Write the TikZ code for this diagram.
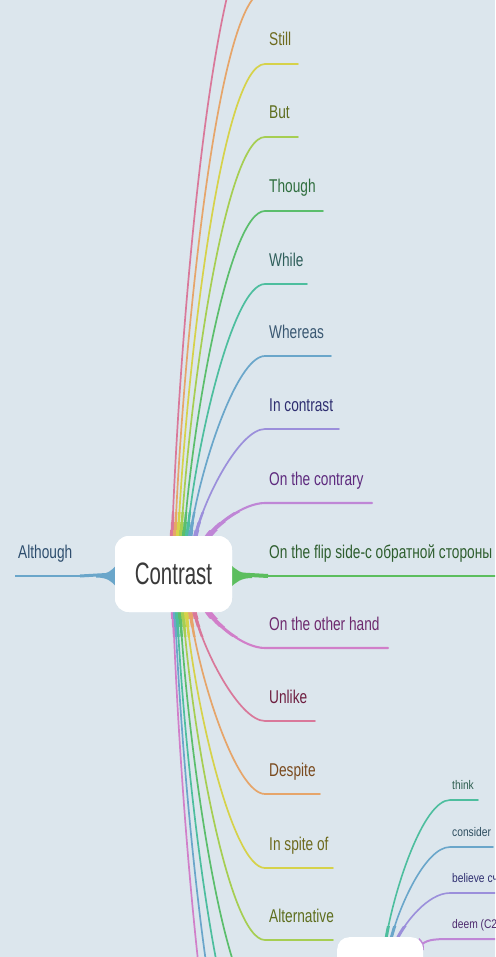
\documentclass[tikz,border=0pt]{standalone}
\usepackage{fontspec}
\setmainfont{Liberation Sans}[FakeStretch=0.74]
\newfontfamily\titlefont{Liberation Sans}[FakeStretch=0.66]
\newfontfamily\subfont{Liberation Sans}[FakeStretch=0.82]
\definecolor{bg}{HTML}{DCE6ED}
\definecolor{cPink}{HTML}{D9789A}
\definecolor{cOrange}{HTML}{E6A56A}
\definecolor{cYellow}{HTML}{D6D24A}
\definecolor{cYG}{HTML}{A6CE52}
\definecolor{cGreen}{HTML}{5BBE6C}
\definecolor{cTeal}{HTML}{4DBE9E}
\definecolor{cBlue}{HTML}{6AA6CA}
\definecolor{cPurple}{HTML}{9B8FDB}
\definecolor{cViolet}{HTML}{BF86D6}
\definecolor{cMagenta}{HTML}{D17FC9}
\definecolor{cFlip}{HTML}{5CBE5E}
\definecolor{tStill}{HTML}{6E6A1E}
\definecolor{tBut}{HTML}{5E6E1E}
\definecolor{tThough}{HTML}{2F6E3E}
\definecolor{tWhile}{HTML}{2E5E5A}
\definecolor{tWhereas}{HTML}{3A5872}
\definecolor{tInc}{HTML}{2E2E70}
\definecolor{tContrary}{HTML}{5E2A7E}
\definecolor{tFlip}{HTML}{2E5E2E}
\definecolor{tOther}{HTML}{6E2A6E}
\definecolor{tUnlike}{HTML}{6E1E40}
\definecolor{tDespite}{HTML}{7A4A1E}
\definecolor{tSpite}{HTML}{6E6A1E}
\definecolor{tAlt}{HTML}{5E6E1E}
\definecolor{tAlthough}{HTML}{2E4E6E}
\definecolor{tThink}{HTML}{2E5E50}
\definecolor{tConsider}{HTML}{2E4E60}
\definecolor{tBelieve}{HTML}{2E2E70}
\definecolor{tDeem}{HTML}{4E2A6E}
\definecolor{tTitle}{HTML}{3A3A3A}
\tikzset{
  br/.style={line width=1.7pt, line cap=round},
  lbl/.style={anchor=base west, inner sep=0pt, font=\fontsize{18.5}{20}\selectfont},
  sublbl/.style={anchor=base west, inner sep=0pt, font=\subfont\fontsize{12.5}{14}\selectfont},
  topic/.style={fill=white, rounded corners=14pt, inner sep=0pt},
}
% #1 name, #2 sx, #3 sy, #4 curve end x, #5 ey, #6 line end x
\newcommand\mkbranch[6]{%
  \pgfmathsetmacro\bdy{#5-#3}%
  \pgfmathsetmacro\bcc{20+0.05*abs(\bdy)}%
  \coordinate (#1-s) at (#2,#3);%
  \coordinate (#1-a) at ({#2+8},{#3+0.35*\bdy});%
  \coordinate (#1-b) at ({#4-\bcc},#5);%
  \coordinate (#1-e) at (#4,#5);%
  \coordinate (#1-f) at (#6,#5);%
}
\newcommand\drawbr[3]{\draw[br, #2, line width=#3] (#1-s) .. controls (#1-a) and (#1-b) .. (#1-e) -- (#1-f);}
\newcommand\flarebr[3]{\draw[#2, line width=#3] (#1-s) .. controls (#1-a) and (#1-b) .. (#1-e);}
\newcommand\upperflare[2]{%
  \flarebr{bA}{cPink}{#1}\flarebr{bB}{cOrange}{#1}\flarebr{bStill}{cYellow}{#1}%
  \flarebr{bBut}{cYG}{#1}\flarebr{bThough}{cGreen}{#1}\flarebr{bWhile}{cTeal}{#1}%
  \flarebr{bWhereas}{cBlue}{#1}\flarebr{bInc}{cPurple}{#1}\flarebr{bContrary}{cViolet}{#2}}
\newcommand\lowerflare[2]{%
  \flarebr{bF}{cMagenta}{#1}\flarebr{bE}{cBlue}{#1}\flarebr{bD}{cTeal}{#1}%
  \flarebr{bC}{cGreen}{#1}\flarebr{bAlt}{cYG}{#1}\flarebr{bSpite}{cYellow}{#1}%
  \flarebr{bDespite}{cOrange}{#1}\flarebr{bUnlike}{cPink}{#1}\flarebr{bOther}{cMagenta}{#2}}
\begin{document}
\begin{tikzpicture}[x=1pt,y=-1pt]
\useasboundingbox (0,0) rectangle (495,957);
\fill[bg] (0,0) rectangle (495,957);
\clip (0,0) rectangle (495,957);

% central topic (placed first so its anchors exist)
\node[topic, minimum width=117pt, minimum height=76pt] (contrast) at (173.5,574) {};

% branch geometry (upper)
\mkbranch{bA}{172}{538}{265}{-82}{340}
\mkbranch{bB}{175}{538}{265}{-9}{320}
\mkbranch{bStill}{178}{538}{265}{64}{298}
\mkbranch{bBut}{181}{538}{265}{137}{298}
\mkbranch{bThough}{184}{538}{265}{211}{323}
\mkbranch{bWhile}{187}{538}{265}{284}{307}
\mkbranch{bWhereas}{190}{538}{265}{356}{331}
\mkbranch{bInc}{195}{538}{265}{429}{339}
\mkbranch{bContrary}{207}{538}{265}{503}{372}
% lower
\mkbranch{bOther}{207}{610}{265}{648}{388}
\mkbranch{bUnlike}{194}{610}{265}{721}{315}
\mkbranch{bDespite}{190}{610}{265}{794}{320}
\mkbranch{bSpite}{186}{610}{265}{868}{333}
\mkbranch{bAlt}{183}{610}{265}{940}{333}
\mkbranch{bC}{180}{610}{265}{1013}{330}
\mkbranch{bD}{177}{610}{265}{1086}{330}
\mkbranch{bE}{175}{610}{265}{1159}{330}
\mkbranch{bF}{173}{610}{265}{1232}{330}

% second topic sub-branches
\mkbranch{sThink}{386}{939}{450}{800}{478}
\mkbranch{sConsider}{391}{939}{450}{847}{493}
\mkbranch{sBelieve}{397}{939}{450}{893}{500}
\coordinate (sDeem-s) at (420,946);
\coordinate (sDeem-a) at (426,940);
\coordinate (sDeem-b) at (432,939);
\coordinate (sDeem-e) at (450,939);
\coordinate (sDeem-f) at (500,939);

% draw branches
\drawbr{bF}{cMagenta}{1.7pt}
\drawbr{bE}{cBlue}{1.7pt}
\drawbr{bD}{cTeal}{1.7pt}
\drawbr{bC}{cGreen}{1.7pt}
\drawbr{bAlt}{cYG}{1.7pt}
\drawbr{bSpite}{cYellow}{1.7pt}
\drawbr{bDespite}{cOrange}{1.7pt}
\drawbr{bUnlike}{cPink}{1.7pt}
\drawbr{bOther}{cMagenta}{2.1pt}
\drawbr{bA}{cPink}{1.7pt}
\drawbr{bB}{cOrange}{1.7pt}
\drawbr{bStill}{cYellow}{1.7pt}
\drawbr{bBut}{cYG}{1.7pt}
\drawbr{bThough}{cGreen}{1.7pt}
\drawbr{bWhile}{cTeal}{1.7pt}
\drawbr{bWhereas}{cBlue}{1.7pt}
\drawbr{bInc}{cPurple}{1.7pt}
\drawbr{bContrary}{cViolet}{2.1pt}

% flares near the central topic (stepped widths)
\begin{scope}\clip (150,540) rectangle (245,512); \upperflare{2.4pt}{3pt}\end{scope}
\begin{scope}\clip (150,540) rectangle (245,522); \upperflare{3.2pt}{4pt}\end{scope}
\begin{scope}\clip (150,540) rectangle (245,530); \upperflare{4.4pt}{6pt}\end{scope}
\begin{scope}\clip (150,608) rectangle (245,636); \lowerflare{2.4pt}{3pt}\end{scope}
\begin{scope}\clip (150,608) rectangle (245,626); \lowerflare{3.2pt}{4pt}\end{scope}
\begin{scope}\clip (150,608) rectangle (245,618); \lowerflare{4.4pt}{6pt}\end{scope}

% Although (left) and flip side (right)
\coordinate (althE) at (15,576);
\coordinate (althM) at (80,576);
\coordinate (flipM) at (268,576);
\coordinate (flipE) at (500,576);
\draw[cBlue, line width=2pt] (althE) -- (althM);
\draw[cBlue, line width=3pt] (althM) -- (contrast.west);
\fill[cBlue] (96,574.5) .. controls (107,574.5) and (112,571) .. (117,564) -- (117,588) .. controls (112,581) and (107,577.5) .. (96,577.5) -- cycle;
\draw[cFlip, line width=2.8pt] (flipM) -- (flipE);
\draw[cFlip, line width=4pt] (contrast.east) -- (flipM);
\fill[cFlip] (252,574) .. controls (241,574) and (236,570) .. (230,564) -- (230,588) .. controls (236,582) and (241,578) .. (252,578) -- cycle;

% second topic sub-branches
\drawbr{sThink}{cTeal}{1.6pt}
\drawbr{sConsider}{cBlue}{1.6pt}
\drawbr{sBelieve}{cPurple}{1.6pt}
\drawbr{sDeem}{cViolet}{2pt}
\begin{scope}
  \clip (370,941) rectangle (440,926);
  \flarebr{sThink}{cTeal}{3pt}\flarebr{sConsider}{cBlue}{3pt}\flarebr{sBelieve}{cPurple}{3pt}
\end{scope}
\fill[cViolet] (419,938) .. controls (423,941) and (424,944) .. (424,950) -- (418,950) -- cycle;

% topic nodes on top
\node[topic, minimum width=117pt, minimum height=76pt] (contrast) at (173.5,574)
  {\titlefont\fontsize{31}{31}\selectfont\color{tTitle}Contrast};
\node[topic, rounded corners=12pt, minimum width=86pt, minimum height=70pt, anchor=north west] (topicB) at (337,937) {};

% labels
\node[lbl, tStill] (still) at (269,46) {Still};
\node[lbl, tBut] (but) at (269,119) {But};
\node[lbl, tThough] (though) at (269,193) {Though};
\node[lbl, tWhile] (while) at (269,266) {While};
\node[lbl, tWhereas] (whereas) at (269,338) {Whereas};
\node[lbl, tInc] (incontrast) at (269,411) {In contrast};
\node[lbl, tContrary] (contrary) at (269,485) {On the contrary};
\node[lbl, tFlip] (flip) at (269,558) {On the flip side-с обратной стороны};
\node[lbl, tOther] (other) at (269,630) {On the other hand};
\node[lbl, tUnlike] (unlike) at (269,703) {Unlike};
\node[lbl, tDespite] (despite) at (269,776) {Despite};
\node[lbl, tSpite] (spite) at (269,850) {In spite of};
\node[lbl, tAlt] (alt) at (269,922) {Alternative};
\node[lbl, tAlthough] (although) at (18,558) {Although};

\node[sublbl, tThink] (think) at (452,789) {think};
\node[sublbl, tConsider] (consider) at (452,836) {consider};
\node[sublbl, tBelieve] (believe) at (452,882) {believe считать};
\node[sublbl, tDeem] (deem) at (452,928) {deem (C2)};
\end{tikzpicture}
\end{document}
